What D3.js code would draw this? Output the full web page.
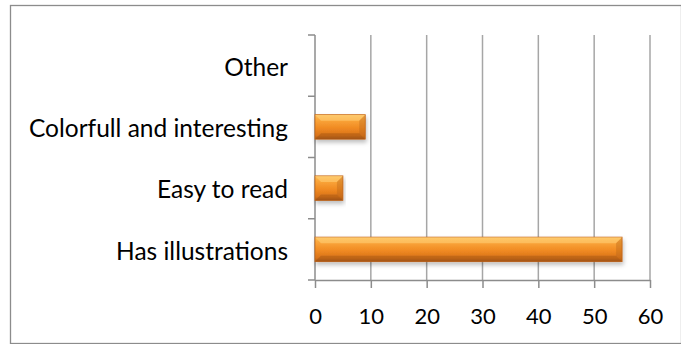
<!doctype html>
<html lang="en">
<head>
    <meta charset="utf-8">
    <title>Bar chart</title>
    <script src="https://d3js.org/d3.v7.min.js"></script>
    <style>
        body { margin: 0; background: #fff; }
        text { font-family: Lato, "Open Sans", sans-serif; font-size: 24.5px; fill: #000; }
        .grid line { stroke: #a6a6a6; stroke-width: 1.5; }
        .axis path, .axis line { stroke: #8c8c8c; stroke-width: 1.5; }
    </style>
</head>
<body>
<div id="chart"></div>
<script>
    const categories = ["Has illustrations", "Easy to read", "Colorfull and interesting", "Other"];
    const values = [55, 5, 9, 0];
    const xTicks = [0, 10, 20, 30, 40, 50, 60];

    const W = 681, H = 344;
    const margin = {left: 315, right: 31, top: 35, bottom: 64};
    const width = W - margin.left - margin.right;
    const height = H - margin.top - margin.bottom;

    const svg = d3.select("#chart").append("svg")
        .attr("width", W)
        .attr("height", H);

    const defs = svg.append("defs");
    const grad = defs.append("linearGradient")
        .attr("id", "orange")
        .attr("x1", 0).attr("y1", 0).attr("x2", 0).attr("y2", 1);
    grad.append("stop").attr("offset", "0%").attr("stop-color", "#fcc25e");
    grad.append("stop").attr("offset", "18%").attr("stop-color", "#fba83d");
    grad.append("stop").attr("offset", "55%").attr("stop-color", "#f08a22");
    grad.append("stop").attr("offset", "85%").attr("stop-color", "#d8731a");
    grad.append("stop").attr("offset", "100%").attr("stop-color", "#a9581a");

    const shadow = defs.append("filter").attr("id", "shadow")
        .attr("x", "-5%").attr("y", "-20%").attr("width", "115%").attr("height", "160%");
    shadow.append("feDropShadow")
        .attr("dx", 1).attr("dy", 3).attr("stdDeviation", 2)
        .attr("flood-color", "#000").attr("flood-opacity", 0.25);

    // outer frame
    svg.append("rect")
        .attr("x", 10.5).attr("y", 5.5)
        .attr("width", W - 10).attr("height", H - 6)
        .attr("fill", "none")
        .attr("stroke", "#8c8c8c")
        .attr("stroke-width", 1.3);

    const g = svg.append("g")
        .attr("transform", `translate(${margin.left},${margin.top})`);

    const x = d3.scaleLinear().domain([0, 60]).range([0, width]);
    const y = d3.scaleBand().domain(categories).range([height, 0]).paddingInner(0.6).paddingOuter(0.3);
    const yEdge = d3.scaleLinear().domain([0, categories.length]).range([height, 0]);

    g.append("g")
        .attr("class", "grid")
        .selectAll("line")
        .data(xTicks.slice(1))
        .enter().append("line")
        .attr("x1", d => x(d)).attr("x2", d => x(d))
        .attr("y1", 0).attr("y2", height);

    g.append("g")
        .attr("class", "axis")
        .attr("transform", `translate(0,${height})`)
        .call(d3.axisBottom(x).tickValues(xTicks).tickSize(8).tickSizeOuter(0).tickPadding(20))
        .call(a => a.selectAll("text").style("font-size", "22px"));

    const yAxis = g.append("g").attr("class", "axis");
    yAxis.append("line")
        .attr("x1", 0).attr("x2", 0).attr("y1", 0).attr("y2", height);
    yAxis.selectAll(".tk")
        .data(d3.range(categories.length + 1))
        .enter().append("line")
        .attr("class", "tk")
        .attr("x1", -7).attr("x2", 0)
        .attr("y1", d => yEdge(d)).attr("y2", d => yEdge(d));

    g.selectAll(".cat")
        .data(categories)
        .enter().append("text")
        .attr("class", "cat")
        .attr("x", -27)
        .attr("y", d => y(d) + y.bandwidth() / 2)
        .attr("dy", "0.42em")
        .attr("text-anchor", "end")
        .text(d => d);

    const bars = g.selectAll(".bar")
        .data(categories.map((c, i) => ({cat: c, v: values[i]})).filter(d => d.v > 0))
        .enter().append("g")
        .attr("class", "bar")
        .attr("filter", "url(#shadow)");

    bars.append("rect")
        .attr("x", 0)
        .attr("y", d => y(d.cat))
        .attr("width", d => x(d.v))
        .attr("height", y.bandwidth())
        .attr("fill", "url(#orange)")
        .attr("stroke", "#c4661b")
        .attr("stroke-width", 0.8);

    // bevel edges
    const bev = 6;
    bars.append("path")
        .attr("d", d => {
            const x0 = 0, x1 = x(d.v), y0 = y(d.cat);
            return `M${x0},${y0}L${x1},${y0}L${x1 - bev},${y0 + bev}L${x0 + bev},${y0 + bev}Z`;
        })
        .attr("fill", "#ffd27a").attr("opacity", 0.55);
    bars.append("path")
        .attr("d", d => {
            const x0 = 0, x1 = x(d.v), y1 = y(d.cat) + y.bandwidth();
            return `M${x0},${y1}L${x1},${y1}L${x1 - bev},${y1 - bev}L${x0 + bev},${y1 - bev}Z`;
        })
        .attr("fill", "#8f4a12").attr("opacity", 0.35);
    bars.append("path")
        .attr("d", d => {
            const x1 = x(d.v), y0 = y(d.cat), y1 = y0 + y.bandwidth();
            return `M${x1},${y0}L${x1},${y1}L${x1 - bev},${y1 - bev}L${x1 - bev},${y0 + bev}Z`;
        })
        .attr("fill", "#b3601a").attr("opacity", 0.35);
</script>
</body>
</html>
